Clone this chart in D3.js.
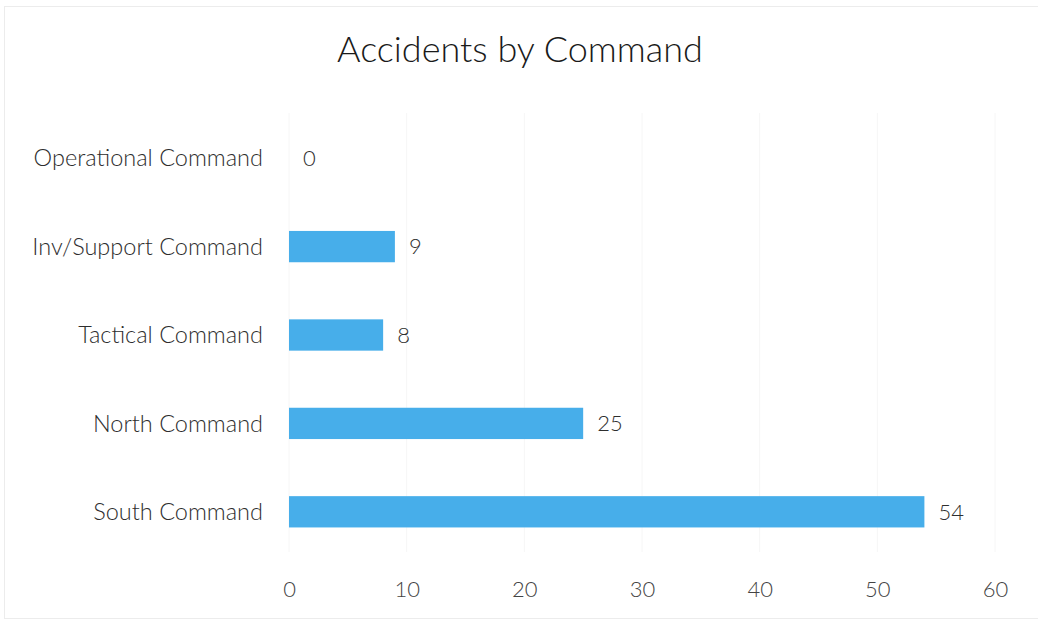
<!DOCTYPE html>
<html>
<head>
<meta charset="utf-8">
<script src="https://cdn.jsdelivr.net/npm/d3@7"></script>
<style>
  body { margin: 0; background: #fff; }
  svg { font-family: Lato, "Open Sans", sans-serif; font-weight: 300; }
</style>
</head>
<body>
<svg id="chart" width="1038" height="621"></svg>
<script>
"use strict";

let categories = ["Operational Command", "Inv/Support Command", "Tactical Command", "North Command", "South Command"];
let accidents = [0, 9, 8, 25, 54];
let xTicks = [0, 10, 20, 30, 40, 50, 60];

function drawChart() {
  let svg = d3.select("#chart");

  // frame from the scanned page
  svg.append("rect")
    .attr("x", 4.5).attr("y", 6.5)
    .attr("width", 1040).attr("height", 612)
    .style("fill", "none").style("stroke", "#ececec");

  let x = d3.scaleLinear().domain([0, 60]).range([289, 995]);
  let y = d3.scaleBand().domain(categories).range([114, 556])
    .paddingInner(0.646).paddingOuter(0.323);

  // faint grid
  svg.append("g").selectAll("line").data(xTicks).enter()
    .append("line")
    .attr("x1", d => x(d)).attr("x2", d => x(d))
    .attr("y1", 113).attr("y2", 552)
    .style("stroke", "#f6f6f6");

  svg.append("text")
    .attr("x", 520).attr("y", 62)
    .attr("text-anchor", "middle")
    .style("font-size", "36px")
    .style("fill", "#1a1a1a")
    .text("Accidents by Command");

  let rows = categories.map((c, i) => ({ name: c, value: accidents[i] }));

  svg.append("g").selectAll("rect").data(rows).enter()
    .append("rect")
    .attr("x", x(0))
    .attr("y", d => y(d.name))
    .attr("width", d => x(d.value) - x(0))
    .attr("height", y.bandwidth())
    .style("fill", "#47aeea");

  svg.append("g").selectAll("text").data(rows).enter()
    .append("text")
    .attr("x", 263)
    .attr("y", d => y(d.name) + y.bandwidth() / 2)
    .attr("dy", "0.35em")
    .attr("text-anchor", "end")
    .style("font-size", "23.5px")
    .style("fill", "#2e2e2e")
    .text(d => d.name);

  svg.append("g").selectAll("text").data(rows).enter()
    .append("text")
    .attr("x", d => x(d.value) + 14)
    .attr("y", d => y(d.name) + y.bandwidth() / 2)
    .attr("dy", "0.35em")
    .style("font-size", "22px")
    .style("fill", "#2e2e2e")
    .text(d => d.value);

  let axis = d3.axisBottom(x).tickValues(xTicks).tickSize(0).tickPadding(0);
  let ax = svg.append("g").attr("transform", "translate(0,581)").call(axis);
  ax.select(".domain").remove();
  ax.selectAll("text")
    .style("font-family", "Lato, 'Open Sans', sans-serif")
    .style("font-weight", "300")
    .style("font-size", "22px")
    .style("fill", "#444");
}

drawChart();
</script>
</body>
</html>
